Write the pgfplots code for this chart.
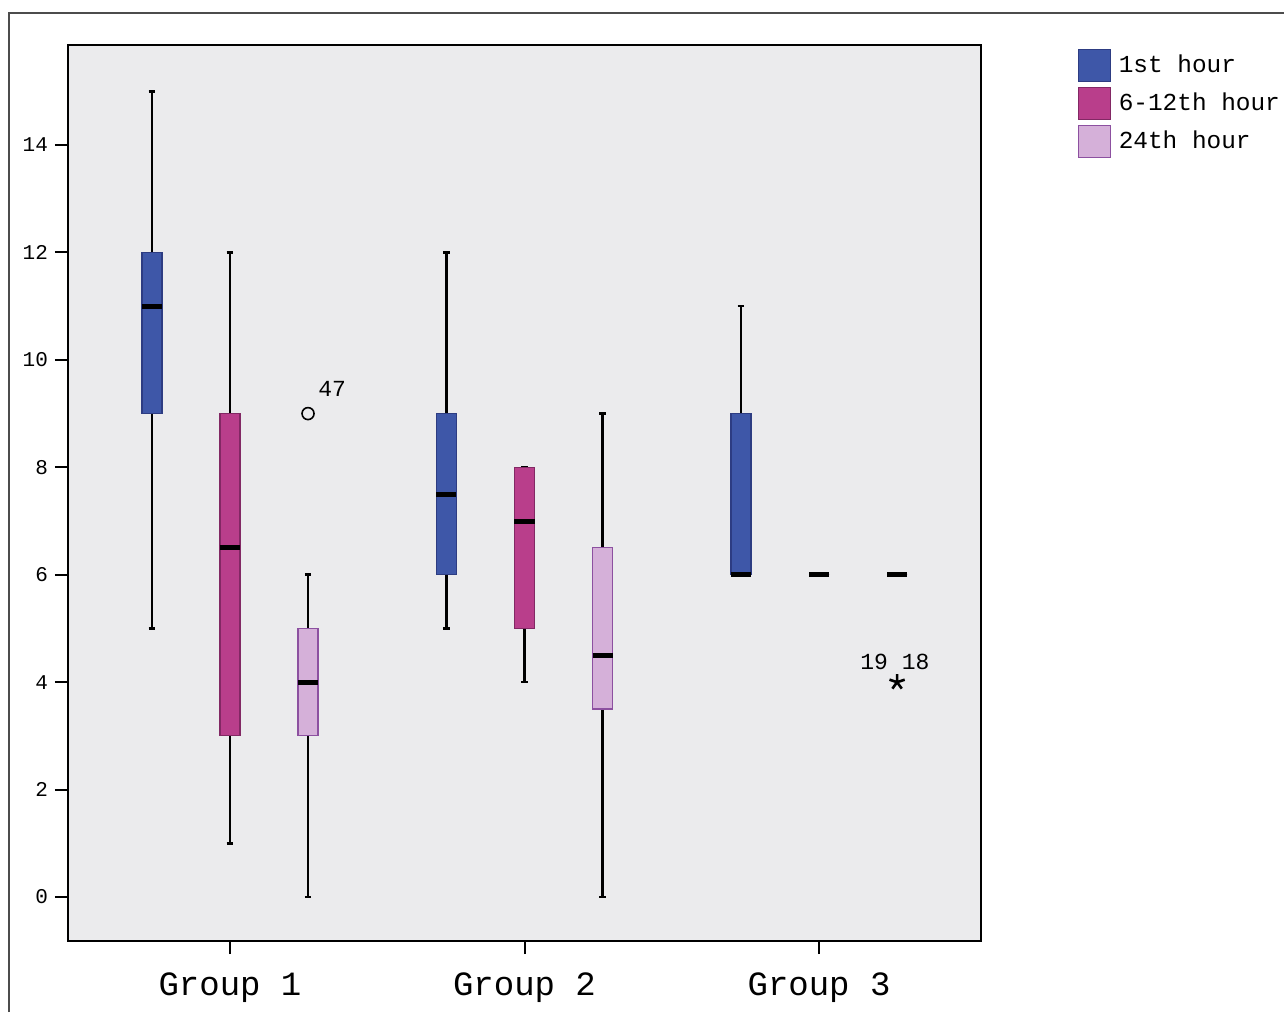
\documentclass[border=0pt]{standalone}
\usepackage{pgfplots}
\pgfplotsset{compat=1.18}
\usepgfplotslibrary{statistics}
\usepackage{fontspec}
\setmainfont{Liberation Mono}
\definecolor{cA}{RGB}{62,87,168}
\definecolor{cAd}{RGB}{45,60,130}
\definecolor{cB}{RGB}{185,62,139}
\definecolor{cBd}{RGB}{130,40,100}
\definecolor{cC}{RGB}{213,176,217}
\definecolor{cCd}{RGB}{140,80,160}
\definecolor{bg}{RGB}{235,235,237}
\begin{document}
\begin{tikzpicture}
\useasboundingbox (0pt,0pt) rectangle (642pt,-506pt);
\draw[black!70, line width=0.7pt] (4.5pt,-506pt) -- (4.5pt,-6.5pt) -- (642pt,-6.5pt);
\begin{axis}[
  at={(34pt,-470.5pt)}, anchor=south west,
  width=456.5pt, height=448pt, scale only axis,
  xmin=-0.55, xmax=2.55, ymin=-0.819, ymax=15.862,
  axis background/.style={fill=bg},
  axis line style={black, line width=1pt},
  tick pos=left, tick align=outside, major tick length=6.5pt,
  every tick/.style={black, line width=1pt},
  xtick={0,1,2}, xticklabels={Group 1,Group 2,Group 3},
  ytick={0,2,...,14},
  /pgf/number format/assume math mode=true,
  yticklabel style={font=\fontsize{10.5pt}{12pt}\selectfont},
  xticklabel style={font=\fontsize{17pt}{20pt}\selectfont, yshift=-6pt},
  boxplot/draw direction=y,
  boxplot/box extend=0.068,
  boxplot/whisker extend=0.022,
  boxplot/every whisker/.style={draw=black, line width=1.3pt},
  boxplot/every median/.style={draw=black, line width=2.5pt},
  boxplot/every box/.style={line width=0.6pt},
  legend style={at={(1.099,1.001)}, anchor=north west, draw=none, fill=none,
    font=\fontsize{12.2pt}{14pt}\selectfont, row sep=2.5pt,
    nodes={inner sep=1pt}},
  legend cell align=left,
  legend image code/.code={\draw[#1, line width=0.6pt] (0pt,-8pt) rectangle (16pt,8pt); \path (19pt,0pt);},
]
% Group 1
\addplot[forget plot, fill=cA, draw=cAd, boxplot prepared={draw position=-0.265,
  lower whisker=5, lower quartile=9, median=11, upper quartile=12, upper whisker=15}]
  coordinates {};
\addplot[forget plot, fill=cB, draw=cBd, boxplot prepared={draw position=0,
  lower whisker=1, lower quartile=3, median=6.5, upper quartile=9, upper whisker=12}]
  coordinates {};
\addplot[forget plot, fill=cC, draw=cCd, mark=o, mark size=3pt, mark options={draw=black, fill=none, line width=0.8pt},
  boxplot prepared={draw position=0.265,
  lower whisker=0, lower quartile=3, median=4, upper quartile=5, upper whisker=6}]
  coordinates {(0,9)};
% Group 2
\addplot[forget plot, fill=cA, draw=cAd, boxplot prepared={draw position=0.735,
  lower whisker=5, lower quartile=6, median=7.5, upper quartile=9, upper whisker=12}]
  coordinates {};
\addplot[forget plot, fill=cB, draw=cBd, boxplot prepared={draw position=1,
  lower whisker=4, lower quartile=5, median=7, upper quartile=8, upper whisker=8}]
  coordinates {};
\addplot[forget plot, fill=cC, draw=cCd, boxplot prepared={draw position=1.265,
  lower whisker=0, lower quartile=3.5, median=4.5, upper quartile=6.5, upper whisker=9}]
  coordinates {};
% Group 3
\addplot[forget plot, fill=cA, draw=cAd, boxplot prepared={draw position=1.735,
  lower whisker=6, lower quartile=6, median=6, upper quartile=9, upper whisker=11}]
  coordinates {};
\addplot[forget plot, fill=cB, draw=cBd, boxplot prepared={draw position=2,
  lower whisker=6, lower quartile=6, median=6, upper quartile=6, upper whisker=6}]
  coordinates {};
\addplot[forget plot, fill=cC, draw=cCd, mark=star, mark size=4pt, mark options={draw=black, line width=1.3pt},
  boxplot prepared={draw position=2.265,
  lower whisker=6, lower quartile=6, median=6, upper quartile=6, upper whisker=6}]
  coordinates {(2.265,4)};
\node[anchor=west, font=\fontsize{11.5pt}{13pt}\selectfont, inner sep=0pt] at (axis cs:0.299,9.46) {47};
\node[anchor=west, font=\fontsize{11.5pt}{13pt}\selectfont, inner sep=0pt] at (axis cs:2.139,4.375) {19 18};
\addlegendimage{fill=cA, draw=cAd}
\addlegendentry{1st hour}
\addlegendimage{fill=cB, draw=cBd}
\addlegendentry{6-12th hour}
\addlegendimage{fill=cC, draw=cCd}
\addlegendentry{24th hour}
\end{axis}
\end{tikzpicture}
\end{document}
